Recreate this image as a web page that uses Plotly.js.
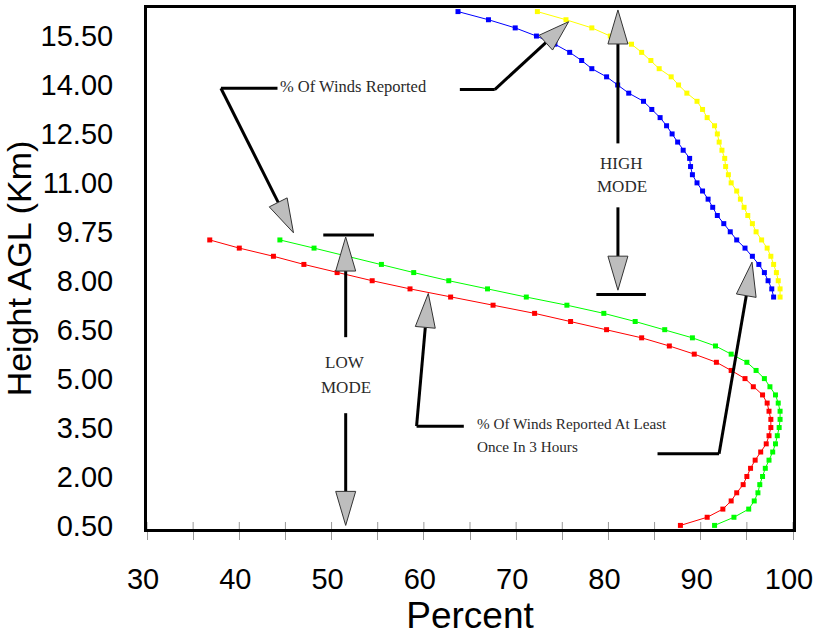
<!DOCTYPE html>
<html><head><meta charset="utf-8">
<script src="https://cdn.plot.ly/plotly-3.0.1.min.js"></script>
<style>html,body{margin:0;padding:0;background:#fff}#chart{width:817px;height:637px}</style>
</head><body><div id="chart"></div>
<script>
// ---- data ----
const lowHeights = [0.5,0.75,1.0,1.25,1.5,1.75,2.0,2.25,2.5,2.75,3.0,3.25,3.5,3.75,4.0,4.25,4.5,4.75,5.0,5.25,5.5,5.75,6.0,6.25,6.5,6.75,7.0,7.25,7.5,7.75,8.0,8.25,8.5,8.75,9.0,9.25];
const highHeights = [7.5,7.75,8.0,8.25,8.5,8.75,9.0,9.25,9.5,9.75,10.0,10.25,10.5,10.75,11.0,11.25,11.5,11.75,12.0,12.25,12.5,12.75,13.0,13.25,13.5,13.75,14.0,14.25,14.5,14.75,15.0,15.25,15.5,15.75,16.0,16.25];
// low mode, % of winds reported at least once in 3 hours (red)
const lowOnce3h = [87.8,90.7,92.4,93.3,93.9,94.6,95.0,95.4,95.9,96.5,97.1,97.4,97.6,97.6,97.4,97.2,96.7,95.7,94.8,93.3,91.7,89.3,86.6,83.6,79.8,75.9,72.0,67.5,62.9,58.5,54.4,50.6,47.0,43.7,40.0,36.8];
// low mode, % of winds reported (green)
const lowReported = [91.5,93.6,95.2,95.8,96.2,96.4,96.7,97.0,97.4,97.8,98.1,98.3,98.5,98.6,98.6,98.4,98.1,97.5,96.9,96.0,95.0,93.3,91.6,89.1,86.1,82.9,79.5,75.5,71.1,66.9,62.7,58.9,55.4,51.6,48.1,44.4];
// high mode, % of winds reported at least once in 3 hours (blue)
const highOnce3h = [97.9,97.7,97.3,96.9,96.3,95.6,94.8,93.9,93.2,92.5,91.8,91.3,90.8,90.2,89.6,89.1,88.9,88.8,88.1,87.5,86.9,86.3,85.6,84.7,83.8,82.2,81.0,79.8,78.2,77.1,75.8,74.2,72.2,69.9,67.0,63.7];
// high mode, % of winds reported (yellow)
const highReported = [98.6,98.6,98.4,98.2,97.9,97.6,97.2,96.6,96.0,95.6,95.1,94.7,94.3,93.9,93.3,93.0,92.7,92.6,92.3,92.0,91.8,91.5,90.7,90.2,89.6,88.5,87.6,86.8,85.5,84.6,83.6,82.5,80.2,78.2,75.4,72.3];
const yTickVals = [0.5,2,3.5,5,6.5,8,9.5,11,12.5,14,15.5];
const yTickText = ['0.50','2.00','3.50','5.00','6.50','8.00','9.75','11.00','12.50','14.00','15.50'];
const xTickVals = [30,35,40,45,50,55,60,65,70,75,80,85,90,95,100];
const xTickText = ['30','','40','','50','','60','','70','','80','','90','','100'];

// ---- layout geometry ----
const W = 817, H = 637;
const M = {l:146.7, r:23.7, t:8, b:108.4, pad:0};
const xRange = [30,100], yRange = [0.39,16.36];
const plotW = W - M.l - M.r, plotH = H - M.t - M.b;
const kx = plotW / (xRange[1]-xRange[0]);
const ky = plotH / (yRange[1]-yRange[0]);

const sans = 'Liberation Sans, Arial, Helvetica, sans-serif';
const serif = 'Liberation Serif, Times New Roman, Times, serif';

function series(x, y, color){
  return {type:'scatter', mode:'lines+markers', x:x, y:y,
    line:{color:color, width:1}, marker:{color:color, size:5, symbol:'square'},
    hoverinfo:'skip', showlegend:false};
}
const traces = [
  series(lowOnce3h, lowHeights, '#ff0000'),
  series(lowReported, lowHeights, '#00ff00'),
  series(highOnce3h, highHeights, '#0000ff'),
  series(highReported, highHeights, '#ffff00')
];

const shapes = [];
// inner half of the x tick marks (ticks cross the axis line in the reference)
xTickVals.forEach(function(v){
  shapes.push({type:'line', xref:'x', yref:'paper', x0:v, x1:v, y0:0, y1:7/plotH,
    line:{color:'#999', width:1}, layer:'above'});
});
function seg(a, b){
  shapes.push({type:'line', xref:'x', yref:'y', x0:a[0], y0:a[1], x1:b[0], y1:b[1],
    line:{color:'#000', width:3}, layer:'above'});
}
function arrow(tail, tip, L, Wd){
  L = L || 34; Wd = Wd || 10;
  const dx = (tip[0]-tail[0])*kx, dy = (tip[1]-tail[1])*ky;
  const len = Math.hypot(dx, dy), ux = dx/len, uy = dy/len;
  const bx = -L*ux, by = -L*uy;
  const px = -uy*Wd, py = ux*Wd;
  const base = [tip[0]+bx/kx, tip[1]+by/ky];
  seg(tail, base);
  const v1 = [tip[0]+(bx+px)/kx, tip[1]+(by+py)/ky];
  const v2 = [tip[0]+(bx-px)/kx, tip[1]+(by-py)/ky];
  shapes.push({type:'path', xref:'x', yref:'y', layer:'above',
    path:'M'+tip[0]+','+tip[1]+' L'+v1[0]+','+v1[1]+' L'+v2[0]+','+v2[1]+' Z',
    fillcolor:'#bdbdbd', line:{color:'#333', width:1}});
}
// HIGH MODE
const hx = 81.03;
arrow([hx,12.21],[hx,16.30]);
arrow([hx,10.25],[hx,7.71]);
seg([78.69,7.58],[84.06,7.58]);
// LOW MODE
const lx = 51.53;
seg([49.1,9.40],[54.59,9.40]);
arrow([lx,6.27],[lx,9.34]);
arrow([lx,3.94],[lx,0.5]);
// % Of Winds Reported
seg([38.01,13.90],[44.14,13.90]);
arrow([38.01,13.90],[45.87,9.47]);
seg([63.9,13.86],[67.68,13.86]);
arrow([67.68,13.86],[75.69,15.94], 31, 10);
// % Of Winds Reported At Least Once In 3 Hours
seg([59.21,3.54],[64.33,3.54]);
arrow([59.21,3.54],[60.48,7.61]);
seg([85.32,2.70],[91.99,2.70]);
arrow([91.99,2.70],[95.56,8.57]);

function note(text, x, y, size, anchor){
  return {text:text, x:x, y:y, xref:'x', yref:'y', showarrow:false,
    xanchor:anchor||'center', yanchor:'middle',
    font:{family:serif, size:size||17, color:'#2a2a2a'}};
}
const annotations = [
  note('HIGH', 81.47, 11.60),
  note('MODE', 81.47, 10.88),
  note('LOW', 51.45, 5.48),
  note('MODE', 51.6, 4.74),
  note('% Of Winds Reported', 44.17, 13.94, 16.5, 'left'),
  note('% Of Winds Reported At Least', 65.49, 3.62, 15.2, 'left'),
  note('Once In 3 Hours', 65.49, 2.92, 15.2, 'left')
];

const layout = {
  width:W, height:H, margin:M,
  paper_bgcolor:'#fff', plot_bgcolor:'#fff', showlegend:false,
  xaxis:{range:xRange, tickmode:'array', tickvals:xTickVals, ticktext:xTickText,
    ticks:'outside', ticklen:8, tickwidth:1, tickcolor:'#999',
    showline:true, linewidth:3, linecolor:'#000', mirror:true,
    showgrid:false, zeroline:false, automargin:false,
    tickfont:{family:sans, size:29, color:'#000'},
    ticklabelstandoff:14, ticklabelshift:-4,
    title:{text:'Percent', font:{family:sans, size:37, color:'#000'}, standoff:2}},
  yaxis:{range:yRange, tickmode:'array', tickvals:yTickVals, ticktext:yTickText,
    ticks:'', showline:true, linewidth:3, linecolor:'#000', mirror:true,
    showgrid:false, zeroline:false, automargin:false,
    tickfont:{family:sans, size:29, color:'#000'},
    ticklabelstandoff:25,
    title:{text:'Height AGL (Km)', font:{family:sans, size:34, color:'#000'}, standoff:2}},
  shapes:shapes, annotations:annotations
};
Plotly.newPlot('chart', traces, layout, {staticPlot:true, displayModeBar:false});
</script></body></html>
